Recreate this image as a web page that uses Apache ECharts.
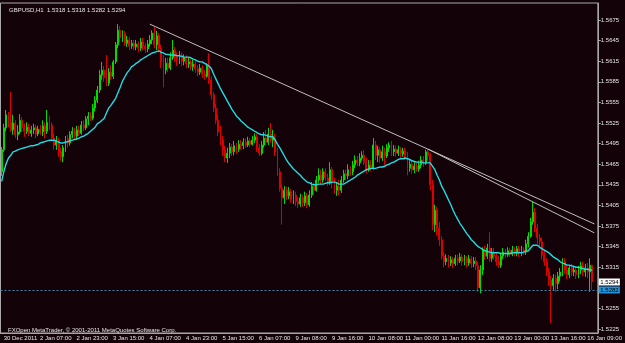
<!DOCTYPE html>
<html><head><meta charset="utf-8">
<script src="https://cdn.jsdelivr.net/npm/echarts@6.0.0/dist/echarts.min.js"></script>
<style>html,body{margin:0;padding:0;background:#130207;}#c{width:625px;height:343px;}</style>
</head><body><div id="c"></div>
<script>
const symbolTitle = 'GBPUSD,H1  1.5318 1.5318 1.5282 1.5294';
const copyright = 'FXOpen MetaTrader, \u00a9 2001-2011 MetaQuotes Software Corp.';
const xTickLabels = ['30 Dec 2011','2 Jan 07:00','2 Jan 23:00','3 Jan 15:00','4 Jan 07:00','4 Jan 23:00','5 Jan 15:00','6 Jan 07:00','9 Jan 08:00','9 Jan 16:00','10 Jan 08:00','11 Jan 00:00','11 Jan 16:00','12 Jan 08:00','13 Jan 00:00','13 Jan 16:00','16 Jan 09:00'];
const yTickLabels = [1.5225,1.5255,1.5315,1.5345,1.5375,1.5405,1.5435,1.5465,1.5495,1.5525,1.5555,1.5585,1.5615,1.5645,1.5675];

const opens = [
1.5454,1.5486,1.5518,1.5537,1.5526,1.5515,1.5525,1.5508,1.5512,1.5529,
1.5518,1.5513,1.5519,1.5510,1.5515,1.5518,1.5509,1.5516,1.5512,1.5521,
1.5513,1.5526,1.5522,1.5503,1.5493,1.5500,1.5483,1.5476,1.5489,1.5502,
1.5496,1.5508,1.5513,1.5506,1.5515,1.5510,1.5522,1.5518,1.5531,1.5535,
1.5532,1.5547,1.5558,1.5573,1.5595,1.5602,1.5591,1.5583,1.5599,1.5593,
1.5614,1.5639,1.5660,1.5649,1.5655,1.5641,1.5646,1.5637,1.5641,1.5636,
1.5640,1.5634,1.5643,1.5637,1.5633,1.5640,1.5646,1.5656,1.5639,1.5652,
1.5634,1.5614,1.5602,1.5612,1.5605,1.5620,1.5631,1.5621,1.5617,1.5624,
1.5615,1.5620,1.5611,1.5614,1.5607,1.5611,1.5604,1.5599,1.5605,1.5596,
1.5593,1.5608,1.5588,1.5566,1.5547,1.5529,1.5512,1.5500,1.5486,1.5474,
1.5481,1.5490,1.5483,1.5492,1.5487,1.5494,1.5492,1.5497,1.5493,1.5499,
1.5494,1.5500,1.5505,1.5489,1.5481,1.5493,1.5503,1.5497,1.5509,1.5500,
1.5503,1.5483,1.5454,1.5430,1.5416,1.5427,1.5419,1.5425,1.5414,1.5420,
1.5411,1.5407,1.5416,1.5409,1.5419,1.5406,1.5420,1.5433,1.5427,1.5442,
1.5449,1.5442,1.5454,1.5445,1.5439,1.5457,1.5439,1.5427,1.5433,1.5427,
1.5442,1.5451,1.5448,1.5457,1.5454,1.5464,1.5471,1.5467,1.5474,1.5478,
1.5468,1.5457,1.5464,1.5459,1.5493,1.5478,1.5486,1.5474,1.5483,1.5477,
1.5489,1.5493,1.5483,1.5487,1.5481,1.5486,1.5480,1.5484,1.5477,1.5459,
1.5465,1.5457,1.5462,1.5458,1.5464,1.5471,1.5467,1.5483,1.5477,1.5435,
1.5377,1.5398,1.5372,1.5355,1.5331,1.5323,1.5328,1.5321,1.5326,1.5320,
1.5328,1.5324,1.5330,1.5323,1.5328,1.5321,1.5327,1.5320,1.5324,1.5317,
1.5285,1.5311,1.5340,1.5331,1.5343,1.5328,1.5337,1.5331,1.5323,1.5318,
1.5331,1.5337,1.5333,1.5339,1.5334,1.5340,1.5336,1.5342,1.5336,1.5340,
1.5337,1.5349,1.5360,1.5381,1.5395,1.5372,1.5358,1.5352,1.5333,1.5323,
1.5308,1.5296,1.5288,1.5299,1.5291,1.5302,1.5308,1.5323,1.5311,1.5304,
1.5314,1.5308,1.5311,1.5304,1.5311,1.5317,1.5308,1.5314,1.5308,1.5318];

const closes = [
1.5486,1.5518,1.5537,1.5526,1.5515,1.5525,1.5508,1.5512,1.5529,1.5518,
1.5513,1.5519,1.5510,1.5515,1.5518,1.5509,1.5516,1.5512,1.5521,1.5513,
1.5526,1.5522,1.5503,1.5493,1.5500,1.5483,1.5476,1.5489,1.5502,1.5496,
1.5508,1.5513,1.5506,1.5515,1.5510,1.5522,1.5518,1.5531,1.5535,1.5532,
1.5547,1.5558,1.5573,1.5595,1.5602,1.5591,1.5583,1.5599,1.5593,1.5614,
1.5639,1.5660,1.5649,1.5655,1.5641,1.5646,1.5637,1.5641,1.5636,1.5640,
1.5634,1.5643,1.5637,1.5633,1.5640,1.5646,1.5656,1.5639,1.5652,1.5634,
1.5614,1.5602,1.5612,1.5605,1.5620,1.5631,1.5621,1.5617,1.5624,1.5615,
1.5620,1.5611,1.5614,1.5607,1.5611,1.5604,1.5599,1.5605,1.5596,1.5593,
1.5608,1.5588,1.5566,1.5547,1.5529,1.5512,1.5500,1.5486,1.5474,1.5481,
1.5490,1.5483,1.5492,1.5487,1.5494,1.5492,1.5497,1.5493,1.5499,1.5494,
1.5500,1.5505,1.5489,1.5481,1.5493,1.5503,1.5497,1.5509,1.5500,1.5503,
1.5483,1.5454,1.5430,1.5416,1.5427,1.5419,1.5425,1.5414,1.5420,1.5411,
1.5407,1.5416,1.5409,1.5419,1.5406,1.5420,1.5433,1.5427,1.5442,1.5449,
1.5442,1.5454,1.5445,1.5439,1.5457,1.5439,1.5427,1.5433,1.5427,1.5442,
1.5451,1.5448,1.5457,1.5454,1.5464,1.5471,1.5467,1.5474,1.5478,1.5468,
1.5457,1.5464,1.5459,1.5493,1.5478,1.5486,1.5474,1.5483,1.5477,1.5489,
1.5493,1.5483,1.5487,1.5481,1.5486,1.5480,1.5484,1.5477,1.5459,1.5465,
1.5457,1.5462,1.5458,1.5464,1.5471,1.5467,1.5483,1.5477,1.5435,1.5377,
1.5398,1.5372,1.5355,1.5331,1.5323,1.5328,1.5321,1.5326,1.5320,1.5328,
1.5324,1.5330,1.5323,1.5328,1.5321,1.5327,1.5320,1.5324,1.5317,1.5285,
1.5311,1.5340,1.5331,1.5343,1.5328,1.5337,1.5331,1.5323,1.5318,1.5331,
1.5337,1.5333,1.5339,1.5334,1.5340,1.5336,1.5342,1.5336,1.5340,1.5337,
1.5349,1.5360,1.5381,1.5395,1.5372,1.5358,1.5352,1.5333,1.5323,1.5308,
1.5296,1.5288,1.5299,1.5291,1.5302,1.5308,1.5323,1.5311,1.5304,1.5314,
1.5308,1.5311,1.5304,1.5311,1.5317,1.5308,1.5314,1.5308,1.5318,1.5294];

const lows = [
1.5448,1.5483,1.5513,1.5519,1.5512,1.5508,1.5503,1.5500,1.5509,1.5512,
1.5505,1.5509,1.5506,1.5505,1.5509,1.5503,1.5506,1.5508,1.5506,1.5503,
1.5509,1.5515,1.5499,1.5486,1.5486,1.5476,1.5470,1.5468,1.5483,1.5489,
1.5492,1.5503,1.5502,1.5500,1.5506,1.5508,1.5513,1.5515,1.5522,1.5528,
1.5529,1.5542,1.5554,1.5569,1.5588,1.5585,1.5579,1.5579,1.5588,1.5589,
1.5611,1.5634,1.5643,1.5643,1.5637,1.5636,1.5631,1.5633,1.5631,1.5631,
1.5628,1.5630,1.5631,1.5627,1.5628,1.5636,1.5640,1.5634,1.5631,1.5628,
1.5605,1.5577,1.5596,1.5599,1.5602,1.5617,1.5614,1.5608,1.5611,1.5608,
1.5609,1.5605,1.5605,1.5602,1.5601,1.5598,1.5593,1.5595,1.5591,1.5588,
1.5591,1.5582,1.5559,1.5541,1.5524,1.5506,1.5493,1.5477,1.5468,1.5467,
1.5474,1.5477,1.5478,1.5480,1.5483,1.5486,1.5487,1.5489,1.5490,1.5490,
1.5492,1.5496,1.5483,1.5477,1.5478,1.5489,1.5492,1.5493,1.5496,1.5490,
1.5477,1.5448,1.5425,1.5377,1.5407,1.5413,1.5414,1.5409,1.5407,1.5404,
1.5401,1.5403,1.5403,1.5404,1.5401,1.5403,1.5416,1.5422,1.5425,1.5438,
1.5436,1.5438,1.5441,1.5433,1.5435,1.5430,1.5422,1.5419,1.5420,1.5423,
1.5438,1.5442,1.5443,1.5448,1.5449,1.5459,1.5462,1.5462,1.5470,1.5464,
1.5452,1.5454,1.5455,1.5457,1.5471,1.5468,1.5467,1.5470,1.5464,1.5474,
1.5483,1.5477,1.5477,1.5476,1.5477,1.5474,1.5476,1.5471,1.5449,1.5454,
1.5451,1.5452,1.5454,1.5454,1.5459,1.5461,1.5464,1.5471,1.5427,1.5369,
1.5366,1.5362,1.5346,1.5326,1.5315,1.5318,1.5315,1.5317,1.5314,1.5317,
1.5318,1.5321,1.5317,1.5318,1.5315,1.5317,1.5314,1.5315,1.5311,1.5279,
1.5277,1.5304,1.5326,1.5327,1.5323,1.5323,1.5326,1.5317,1.5314,1.5314,
1.5327,1.5328,1.5330,1.5330,1.5331,1.5331,1.5331,1.5330,1.5331,1.5333,
1.5333,1.5344,1.5358,1.5377,1.5366,1.5349,1.5344,1.5326,1.5317,1.5302,
1.5288,1.5234,1.5282,1.5279,1.5283,1.5294,1.5302,1.5305,1.5298,1.5299,
1.5302,1.5302,1.5298,1.5299,1.5305,1.5302,1.5301,1.5299,1.5279,1.5282];

const highs = [
1.5490,1.5524,1.5544,1.5541,1.5570,1.5537,1.5529,1.5522,1.5538,1.5534,
1.5524,1.5526,1.5524,1.5521,1.5524,1.5522,1.5521,1.5522,1.5529,1.5526,
1.5544,1.5535,1.5526,1.5509,1.5506,1.5503,1.5489,1.5493,1.5506,1.5508,
1.5513,1.5519,1.5518,1.5521,1.5521,1.5528,1.5529,1.5535,1.5541,1.5541,
1.5553,1.5564,1.5579,1.5602,1.5614,1.5608,1.5624,1.5605,1.5609,1.5617,
1.5643,1.5669,1.5666,1.5660,1.5659,1.5652,1.5650,1.5646,1.5646,1.5646,
1.5644,1.5649,1.5649,1.5641,1.5646,1.5653,1.5660,1.5665,1.5659,1.5656,
1.5639,1.5624,1.5620,1.5620,1.5628,1.5646,1.5636,1.5628,1.5630,1.5628,
1.5625,1.5624,1.5620,1.5618,1.5617,1.5615,1.5609,1.5611,1.5609,1.5602,
1.5612,1.5627,1.5593,1.5570,1.5553,1.5537,1.5521,1.5506,1.5492,1.5489,
1.5496,1.5494,1.5499,1.5496,1.5500,1.5500,1.5503,1.5502,1.5505,1.5503,
1.5506,1.5510,1.5509,1.5494,1.5499,1.5512,1.5515,1.5518,1.5525,1.5515,
1.5509,1.5489,1.5459,1.5435,1.5433,1.5432,1.5432,1.5429,1.5427,1.5425,
1.5417,1.5422,1.5420,1.5425,1.5423,1.5427,1.5439,1.5438,1.5448,1.5459,
1.5457,1.5459,1.5459,1.5451,1.5468,1.5461,1.5445,1.5439,1.5442,1.5448,
1.5457,1.5457,1.5465,1.5462,1.5470,1.5478,1.5477,1.5481,1.5484,1.5486,
1.5474,1.5471,1.5471,1.5503,1.5499,1.5492,1.5490,1.5492,1.5489,1.5494,
1.5497,1.5499,1.5493,1.5492,1.5492,1.5490,1.5489,1.5489,1.5483,1.5471,
1.5471,1.5468,1.5467,1.5470,1.5477,1.5477,1.5486,1.5487,1.5481,1.5442,
1.5406,1.5403,1.5381,1.5360,1.5337,1.5334,1.5333,1.5331,1.5330,1.5333,
1.5333,1.5336,1.5334,1.5333,1.5331,1.5333,1.5331,1.5330,1.5330,1.5323,
1.5318,1.5344,1.5346,1.5349,1.5366,1.5343,1.5343,1.5337,1.5331,1.5336,
1.5343,1.5342,1.5344,1.5343,1.5346,1.5344,1.5346,1.5346,1.5346,1.5344,
1.5355,1.5366,1.5387,1.5410,1.5401,1.5378,1.5363,1.5358,1.5340,1.5328,
1.5314,1.5302,1.5305,1.5304,1.5308,1.5314,1.5328,1.5328,1.5317,1.5318,
1.5320,1.5317,1.5315,1.5317,1.5323,1.5323,1.5320,1.5321,1.5328,1.5318];

const maValues = [
1.5440,1.5455,1.5466,1.5474,1.5478,1.5483,1.5484,1.5486,1.5487,1.5488,
1.5489,1.5490,1.5491,1.5492,1.5492,1.5493,1.5494,1.5496,1.5497,1.5498,
1.5499,1.5500,1.5500,1.5500,1.5499,1.5497,1.5496,1.5496,1.5497,1.5498,
1.5499,1.5500,1.5501,1.5502,1.5503,1.5505,1.5506,1.5508,1.5510,1.5513,
1.5516,1.5519,1.5524,1.5526,1.5529,1.5532,1.5540,1.5547,1.5551,1.5556,
1.5561,1.5569,1.5577,1.5586,1.5592,1.5598,1.5602,1.5607,1.5609,1.5612,
1.5614,1.5617,1.5619,1.5621,1.5623,1.5625,1.5627,1.5628,1.5629,1.5630,
1.5628,1.5627,1.5625,1.5625,1.5624,1.5624,1.5624,1.5623,1.5623,1.5622,
1.5621,1.5621,1.5621,1.5620,1.5618,1.5617,1.5615,1.5614,1.5614,1.5612,
1.5610,1.5608,1.5604,1.5596,1.5589,1.5582,1.5575,1.5569,1.5563,1.5557,
1.5551,1.5545,1.5540,1.5535,1.5532,1.5528,1.5525,1.5522,1.5519,1.5517,
1.5515,1.5513,1.5511,1.5509,1.5508,1.5508,1.5507,1.5506,1.5505,1.5505,
1.5500,1.5494,1.5489,1.5483,1.5477,1.5471,1.5466,1.5462,1.5458,1.5455,
1.5452,1.5449,1.5445,1.5442,1.5439,1.5438,1.5436,1.5435,1.5435,1.5436,
1.5436,1.5436,1.5437,1.5438,1.5438,1.5439,1.5439,1.5438,1.5436,1.5436,
1.5436,1.5438,1.5440,1.5442,1.5444,1.5446,1.5449,1.5451,1.5453,1.5455,
1.5457,1.5458,1.5459,1.5459,1.5459,1.5460,1.5461,1.5461,1.5462,1.5464,
1.5465,1.5467,1.5468,1.5470,1.5472,1.5473,1.5473,1.5474,1.5473,1.5472,
1.5470,1.5469,1.5468,1.5468,1.5468,1.5467,1.5467,1.5467,1.5467,1.5462,
1.5457,1.5449,1.5442,1.5433,1.5427,1.5420,1.5413,1.5406,1.5398,1.5391,
1.5385,1.5379,1.5374,1.5369,1.5364,1.5360,1.5355,1.5352,1.5348,1.5345,
1.5343,1.5341,1.5339,1.5338,1.5337,1.5336,1.5336,1.5336,1.5336,1.5335,
1.5335,1.5335,1.5335,1.5335,1.5336,1.5336,1.5336,1.5336,1.5336,1.5337,
1.5338,1.5339,1.5343,1.5347,1.5347,1.5347,1.5344,1.5342,1.5340,1.5338,
1.5336,1.5333,1.5330,1.5328,1.5326,1.5323,1.5321,1.5320,1.5318,1.5318,
1.5317,1.5316,1.5315,1.5315,1.5314,1.5313,1.5312,1.5312,1.5311,1.5311];

const upperTrend = [[65, 1.5669], [260, 1.5378]];
const lowerTrend = [[187, 1.5487], [260, 1.5365]];
const levelLine = 1.5282;
const lastPrice = 1.5294;
const priceBoxes = [[lastPrice, '#ffffff'], [levelLine, '#1e94dc']];
const slotCount = 262;

const cats = Array.from({length: slotCount}, (_, i) => String(i));
const candles = opens.map((o, i) => [o, closes[i], lows[i], highs[i]]);
const FONT = 'Liberation Sans';
const txt = '#e6e6e6';
const axisCol = '#a8a8a8';

const chart = echarts.init(document.getElementById('c'), null, {renderer: 'canvas'});
chart.setOption({
  backgroundColor: '#130207',
  animation: false,
  title: [
    {text: symbolTitle, left: 4, top: 2, textStyle: {color: txt, fontSize: 6, fontWeight: 'normal', fontFamily: FONT}},
    {text: copyright, left: 3, top: 322, textStyle: {color: txt, fontSize: 6, fontWeight: 'normal', fontFamily: FONT}}
  ],
  grid: {left: 0.5, right: 22.4, top: 3, bottom: 10, show: true, borderColor: axisCol, borderWidth: 1},
  xAxis: {
    type: 'category', data: cats, boundaryGap: true,
    axisLine: {lineStyle: {color: axisCol, width: 1}},
    axisTick: {interval: 15, alignWithLabel: true, length: 3, lineStyle: {color: axisCol}},
    axisLabel: {interval: 15, align: 'left', margin: 2, padding: [0, 0, 0, 2], color: txt, fontSize: 6, fontFamily: FONT,
      formatter: (v, i) => (i % 16 === 0 && xTickLabels[i / 16]) ? xTickLabels[i / 16] : ''},
    splitLine: {show: false}
  },
  yAxis: {
    type: 'value', position: 'right', min: 1.52192, max: 1.56998,
    axisLine: {show: true, lineStyle: {color: axisCol, width: 1}},
    axisTick: {show: true, customValues: yTickLabels, length: 3, lineStyle: {color: axisCol}},
    axisLabel: {customValues: yTickLabels, formatter: v => v.toFixed(4), margin: 3, color: txt, fontSize: 6, fontFamily: FONT},
    splitLine: {show: false}
  },
  series: [
    {
      type: 'candlestick', data: candles, barWidth: 1.4, z: 2,
      itemStyle: {color: '#00ff00', color0: '#ff0000', borderColor: '#00dc00', borderColor0: '#dc0000', borderWidth: 1}
    },
    {
      type: 'line', data: maValues, showSymbol: false, z: 3, silent: true,
      lineStyle: {color: '#20dce4', width: 1.4},
      markLine: {
        symbol: 'none', silent: true, animation: false, precision: 4, label: {show: false},
        data: [{yAxis: levelLine, lineStyle: {type: [2, 2], color: '#3a88aa', width: 1}}]
      }
    },
    {type: 'line', data: upperTrend, showSymbol: false, z: 4, silent: true, lineStyle: {color: '#c0c0c0', width: 1}},
    {type: 'line', data: lowerTrend, showSymbol: false, z: 4, silent: true, lineStyle: {color: '#c0c0c0', width: 1}},
    {
      type: 'custom', data: priceBoxes, z: 10, silent: true, clip: false,
      renderItem: (params, api) => {
        const i = params.dataIndex;
        const y = api.coord([0, priceBoxes[i][0]])[1];
        const x = params.coordSys.x + params.coordSys.width + 1;
        return {
          type: 'group', children: [
            {type: 'rect', shape: {x: x, y: Math.round(y) - 3.5, width: 21, height: 7}, style: {fill: priceBoxes[i][1]}},
            {type: 'text', x: x + 1.5, y: Math.round(y), style: {text: priceBoxes[i][0].toFixed(4), fill: '#000', font: '6px "Liberation Sans"', verticalAlign: 'middle', align: 'left'}}
          ]
        };
      },
      encode: {x: -1, y: 0}
    }
  ]
});
</script>
</body></html>
